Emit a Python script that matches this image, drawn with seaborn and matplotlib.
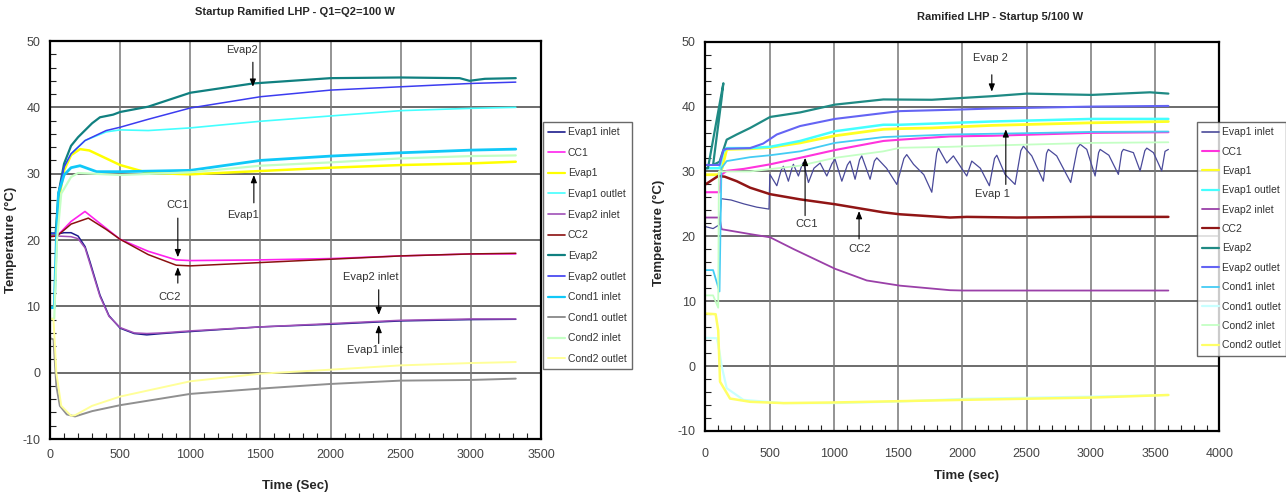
import numpy as np
import pandas as pd
import matplotlib
matplotlib.use("Agg")
import matplotlib.pyplot as plt
from matplotlib.lines import Line2D
from matplotlib.ticker import MultipleLocator
import seaborn as sns

# -----------------------------
# Data  (time s, temperature degC)
# -----------------------------

sensor_names = ["Evap1 inlet", "CC1", "Evap1", "Evap1 outlet", "Evap2 inlet", "CC2",
                "Evap2", "Evap2 outlet", "Cond1 inlet", "Cond1 outlet", "Cond2 inlet", "Cond2 outlet"]

# left chart: Q1=Q2=100 W
left_evap1_inlet = [(0, 20.8), (50, 20.9), (100, 21.1), (150, 21.1), (200, 20.6), (250, 19.0), (285, 16.7),
                    (356, 11.7), (420, 8.6), (500, 6.7), (600, 5.9), (690, 5.7), (800, 5.9), (1000, 6.2),
                    (1500, 6.9), (2000, 7.3), (2500, 7.8), (3000, 8.0), (3320, 8.05)]
left_cc1 = [(0, 20.8), (50, 20.6), (150, 22.8), (249, 24.3), (350, 22.6), (500, 20.1), (700, 18.3),
            (900, 17.0), (1000, 16.9), (1500, 17.0), (2000, 17.2), (2500, 17.6), (3000, 17.9), (3320, 17.9)]
left_evap1 = [(0, 21), (45, 21), (70, 27), (100, 30.5), (150, 32.8), (214, 33.7), (280, 33.5), (400, 32.3),
              (500, 31.3), (700, 30.1), (1000, 29.9), (1500, 30.4), (2000, 30.9), (2500, 31.3), (3000, 31.55),
              (3320, 31.8)]
left_evap1_outlet = [(0, 21), (45, 21), (60, 27), (100, 31), (150, 33), (250, 35), (400, 36.3), (500, 36.6),
                     (700, 36.5), (1000, 36.9), (1500, 37.9), (2000, 38.7), (2500, 39.5), (3000, 39.85),
                     (3320, 40.0)]
left_evap2_inlet = [(0, 20.6), (50, 20.6), (150, 20.5), (200, 20.2), (250, 18.8), (285, 16.4), (356, 11.5),
                    (420, 8.5), (500, 6.8), (600, 6.0), (690, 5.9), (800, 6.0), (1000, 6.3), (1500, 6.9),
                    (2000, 7.4), (2500, 7.9), (3000, 8.1), (3320, 8.1)]
left_cc2 = [(0, 20.5), (50, 20.6), (150, 22.4), (273, 23.3), (400, 21.6), (500, 20.1), (700, 17.8),
            (900, 16.2), (1000, 16.1), (1500, 16.6), (2000, 17.1), (2500, 17.6), (3000, 17.9), (3320, 18.0)]
left_evap2 = [(0, 21), (40, 21), (60, 27), (100, 31.5), (150, 34.2), (200, 35.5), (300, 37.6), (356, 38.5),
              (450, 38.9), (500, 39.3), (700, 40.1), (1000, 42.2), (1447, 43.6), (2000, 44.4), (2500, 44.5),
              (2920, 44.4), (2990, 44.0), (3100, 44.3), (3320, 44.4)]
left_evap2_outlet = [(0, 21), (45, 21), (60, 27), (100, 31), (150, 33), (250, 35), (400, 36.5), (500, 37.0),
                     (700, 38.2), (1000, 39.9), (1500, 41.6), (2000, 42.6), (2500, 43.1), (3000, 43.6),
                     (3320, 43.8)]
left_cond1_inlet = [(0, 9.8), (30, 9.8), (45, 20), (60, 27), (100, 29.8), (150, 30.9), (214, 31.2),
                    (332, 30.3), (500, 30.3), (1000, 30.5), (1500, 32.0), (2000, 32.65), (2500, 33.15),
                    (3000, 33.55), (3320, 33.7)]
left_cond1_outlet = [(0, 5.2), (25, 5.0), (45, -2), (70, -5), (120, -6.3), (178, -6.6), (300, -5.8),
                     (500, -4.9), (1000, -3.2), (1500, -2.4), (2000, -1.7), (2500, -1.2), (3000, -1.1),
                     (3320, -0.9)]
left_cond2_inlet = [(0, 8), (30, 8.2), (50, 20), (80, 27), (150, 29.5), (200, 30.1), (500, 29.8),
                    (1000, 30.2), (1500, 31.2), (2000, 31.7), (2500, 32.3), (3000, 32.65), (3320, 32.75)]
left_cond2_outlet = [(0, 8.2), (25, 8), (45, 0), (80, -5), (150, -6.5), (180, -6.4), (300, -5.0),
                     (500, -3.6), (1000, -1.3), (1500, -0.15), (2000, 0.45), (2500, 1.1), (3000, 1.45),
                     (3320, 1.6)]

# right chart: startup 5/100 W
right_evap1_inlet = [(0, 21.5), (60, 21.2), (110, 21.8), (125, 25.8), (200, 25.6), (300, 25.0), (400, 24.5),
                     (495, 24.2), (502, 29.55), (556, 27.8), (590, 30.2), (607, 30.8), (646, 28.5),
                     (675, 30.6), (685, 31.1), (724, 29.3), (750, 30.9), (763, 31.4), (802, 28.3), (845, 30.5),
                     (893, 31.3), (945, 29.3), (985, 31.2), (1009, 31.9), (1062, 28.5), (1105, 31.0),
                     (1126, 31.6), (1165, 28.8), (1200, 31.8), (1217, 32.4), (1282, 28.8), (1315, 31.6),
                     (1334, 32.1), (1410, 30.5), (1490, 28.0), (1545, 32.0), (1567, 32.6), (1620, 31.1),
                     (1700, 29.5), (1762, 26.8), (1800, 32.8), (1814, 33.6), (1879, 31.3), (1930, 32.4),
                     (2034, 29.3), (2073, 31.6), (2140, 30.5), (2210, 27.8), (2250, 32.0), (2268, 32.5),
                     (2332, 29.55), (2410, 28.0), (2455, 33.2), (2475, 33.9), (2540, 32.4), (2630, 28.5),
                     (2655, 32.8), (2669, 33.4), (2734, 32.4), (2843, 28.3), (2895, 33.6), (2916, 34.2),
                     (2968, 33.4), (3033, 29.3), (3060, 32.9), (3072, 33.4), (3140, 32.5), (3214, 29.55),
                     (3240, 33.0), (3253, 33.4), (3331, 32.9), (3383, 30.1), (3420, 33.2), (3435, 33.6),
                     (3487, 32.9), (3551, 30.1), (3577, 33.1), (3603, 33.4)]
right_cc1 = [(0, 26.8), (110, 26.8), (125, 29.5), (166, 30.1), (300, 30.4), (504, 31.1), (737, 32.1),
             (1008, 33.3), (1385, 34.7), (1515, 34.9), (1904, 35.4), (2229, 35.5), (3007, 35.95), (3603, 36.05)]
right_evap1 = [(0, 29.5), (100, 29.5), (130, 30.5), (166, 33.4), (348, 33.5), (504, 33.7), (737, 34.4),
               (1008, 35.5), (1385, 36.5), (1515, 36.6), (1762, 36.7), (2229, 37.1), (3007, 37.5), (3603, 37.7)]
right_evap1_outlet = [(0, 30.5), (110, 30.5), (140, 33.0), (166, 33.6), (348, 33.6), (504, 33.8), (737, 34.7),
                      (1008, 36.2), (1385, 37.2), (1515, 37.2), (2229, 37.7), (3007, 38.1), (3603, 38.1)]
right_evap2_inlet = [(0, 22.9), (110, 22.9), (126, 21.1), (348, 20.35), (504, 19.85), (685, 18.05),
                     (1009, 15.0), (1256, 13.2), (1515, 12.4), (1904, 11.7), (2008, 11.65), (3007, 11.65),
                     (3603, 11.65)]
right_cc2 = [(0, 28.0), (100, 29.3), (150, 29.2), (244, 28.5), (348, 27.5), (504, 26.5), (737, 25.7),
             (1008, 24.95), (1385, 23.7), (1515, 23.4), (1904, 22.9), (2034, 23.0), (2425, 22.9), (3007, 23.0),
             (3603, 23.0)]
right_evap2 = [(0, 30.5), (20, 30.5), (140, 43.6), (125, 41), (60, 31), (110, 31.5), (166, 34.9), (244, 35.7),
               (348, 36.7), (504, 38.4), (737, 39.1), (1008, 40.3), (1385, 41.1), (1762, 41.05), (2229, 41.6),
               (2501, 42.0), (3007, 41.8), (3460, 42.2), (3603, 42.0)]
right_evap2_outlet = [(0, 31.0), (110, 31.0), (140, 33.3), (166, 33.5), (348, 33.6), (450, 34.3), (556, 35.7),
                      (737, 37.0), (1008, 38.1), (1385, 39.0), (1515, 39.3), (1904, 39.5), (2229, 39.7),
                      (3007, 40.0), (3603, 40.1)]
right_cond1_inlet = [(0, 14.8), (60, 14.8), (110, 11.5), (125, 30.5), (166, 31.6), (348, 32.2), (504, 32.5),
                     (737, 33.1), (1008, 34.4), (1385, 35.3), (1904, 35.7), (2500, 35.9), (3007, 36.1),
                     (3603, 36.15)]
right_cond1_outlet = [(0, 4.35), (90, 4.3), (110, 2.2), (127, 0), (166, -3.4), (296, -5.2), (607, -5.7),
                      (1009, -5.7), (1515, -5.45), (2008, -5.05), (3007, -4.7), (3603, -4.45)]
right_cond2_inlet = [(0, 10.9), (60, 10.9), (100, 9.0), (105, 30.0), (348, 30.0), (737, 30.9), (1008, 32.1),
                     (1385, 33.1), (1515, 33.65), (1904, 33.8), (2229, 34.0), (3007, 34.4), (3603, 34.5)]
right_cond2_outlet = [(0, 8.1), (80, 8.0), (100, 5.5), (114, -2.4), (192, -5.0), (348, -5.5), (607, -5.7),
                      (1009, -5.6), (1515, -5.4), (2008, -5.2), (3007, -4.85), (3603, -4.45)]

left_series = [left_evap1_inlet, left_cc1, left_evap1, left_evap1_outlet, left_evap2_inlet, left_cc2,
               left_evap2, left_evap2_outlet, left_cond1_inlet, left_cond1_outlet, left_cond2_inlet,
               left_cond2_outlet]
right_series = [right_evap1_inlet, right_cc1, right_evap1, right_evap1_outlet, right_evap2_inlet, right_cc2,
                right_evap2, right_evap2_outlet, right_cond1_inlet, right_cond1_outlet, right_cond2_inlet,
                right_cond2_outlet]

left_colors = ["#1c1c8c", "#ff22ee", "#ffff00", "#44ffff", "#a050b8", "#8b1010",
               "#108080", "#3c3cf0", "#10c8f8", "#909090", "#c4ffc4", "#ffff99"]
right_colors = ["#4a4a9a", "#ff33dd", "#ffff22", "#44ffff", "#9a40a8", "#901515",
                "#1f8a84", "#6464f4", "#44ccf4", "#c8ffff", "#c4ffc4", "#ffff66"]
left_widths = [1.1, 1.2, 1.8, 1.2, 1.1, 1.1, 1.6, 1.1, 2.0, 1.4, 1.6, 1.4]
right_widths = [0.9, 1.5, 2.0, 1.8, 1.3, 1.8, 1.6, 1.5, 1.3, 1.6, 1.3, 1.8]


def to_frame(series_list):
    rows = []
    for name, pts in zip(sensor_names, series_list):
        for order, (t, temp) in enumerate(pts):
            rows.append({"Sensor": name, "Time": t, "Temp": temp, "order": order})
    return pd.DataFrame(rows)


left_df = to_frame(left_series)
right_df = to_frame(right_series)

# -----------------------------
# Plot
# -----------------------------
sns.set_style("white")
plt.rcParams["font.family"] = ["Liberation Sans", "DejaVu Sans"]
plt.rcParams["axes.unicode_minus"] = False

fig = plt.figure(figsize=(12.86, 4.97), dpi=100)
ax1 = fig.add_axes([0.0389, 0.1167, 0.3818, 0.8008])
ax2 = fig.add_axes([0.5485, 0.1328, 0.3997, 0.7833])


def draw_panel(ax, df, colors, widths, xmax):
    for name, col, lw in zip(sensor_names, colors, widths):
        sub = df[df["Sensor"] == name]
        sns.lineplot(data=sub, x="Time", y="Temp", color=col, lw=lw, sort=False,
                     estimator=None, ax=ax, legend=False)
    ax.set_xlim(0, xmax)
    ax.set_ylim(-10, 50)
    ax.xaxis.set_major_locator(MultipleLocator(500))
    ax.xaxis.set_minor_locator(MultipleLocator(100))
    ax.yaxis.set_major_locator(MultipleLocator(10))
    ax.yaxis.set_minor_locator(MultipleLocator(2))
    ax.tick_params(axis="both", which="major", labelsize=9, labelcolor="#444", length=0, pad=7)
    ax.tick_params(axis="both", which="minor", direction="in", length=4, color="#222", width=0.8)
    ax.tick_params(axis="x", which="minor", bottom=True)
    ax.tick_params(axis="y", which="minor", left=True)
    for y in range(0, 50, 10):
        ax.axhline(y, color="#444", lw=1.1, zorder=0)
    for x in range(500, xmax, 500):
        ax.axvline(x, color="#777", lw=1.1, zorder=0)
    for s in ax.spines.values():
        s.set_color("black")
        s.set_linewidth(1.6)
    ax.set_xlabel("")
    ax.set_ylabel("Temperature (°C)", fontsize=9.5, fontweight="bold")


draw_panel(ax1, left_df, left_colors, left_widths, 3500)
draw_panel(ax2, right_df, right_colors, right_widths, 4000)

ax1.yaxis.set_label_coords(-0.067, 0.5)
ax2.yaxis.set_label_coords(-0.078, 0.51)
ax1.text(0.5, -0.118, "Time (Sec)", transform=ax1.transAxes, ha="center", va="center",
         fontsize=9.5, fontweight="bold")
ax2.text(0.508, -0.116, "Time (sec)", transform=ax2.transAxes, ha="center", va="center",
         fontsize=9.5, fontweight="bold")
ax2.tick_params(axis="x", which="major", pad=12)

fig.text(295 / 1286, 1 - 12 / 497, "Startup Ramified LHP - Q1=Q2=100 W", ha="center", va="center",
         fontsize=8, fontweight="bold")
fig.text(1000 / 1286, 1 - 17 / 497, "Ramified LHP - Startup 5/100 W", ha="center", va="center",
         fontsize=8, fontweight="bold")

# annotations
arrow = dict(arrowstyle="-|>,head_width=0.18,head_length=0.45", color="black", lw=0.8, shrinkA=0, shrinkB=0)
note_kw = dict(fontsize=8, color="#333", ha="center", va="center")

ax1.annotate("", xy=(1446, 43.1), xytext=(1446, 46.8), arrowprops=arrow)
ax1.text(1370, 48.6, "Evap2", **note_kw)
ax1.annotate("", xy=(1453, 29.8), xytext=(1453, 25.6), arrowprops=arrow)
ax1.text(1374, 23.8, "Evap1", **note_kw)
ax1.annotate("", xy=(911, 17.4), xytext=(911, 23.3), arrowprops=arrow)
ax1.text(911, 25.3, "CC1", **note_kw)
ax1.annotate("", xy=(911, 15.9), xytext=(911, 13.5), arrowprops=arrow)
ax1.text(855, 11.4, "CC2", **note_kw)
ax1.annotate("", xy=(2343, 8.7), xytext=(2343, 12.5), arrowprops=arrow)
ax1.text(2286, 14.4, "Evap2 inlet", **note_kw)
ax1.annotate("", xy=(2343, 7.2), xytext=(2343, 4.4), arrowprops=arrow)
ax1.text(2314, 3.4, "Evap1 inlet", **note_kw)

ax2.annotate("", xy=(2229, 42.3), xytext=(2229, 44.9), arrowprops=arrow)
ax2.text(2216, 47.5, "Evap 2", **note_kw)
ax2.annotate("", xy=(2338, 36.5), xytext=(2338, 28.0), arrowprops=arrow)
ax2.text(2237, 26.5, "Evap 1", **note_kw)
ax2.annotate("", xy=(776, 32.1), xytext=(776, 23.2), arrowprops=arrow)
ax2.text(789, 21.9, "CC1", **note_kw)
ax2.annotate("", xy=(1196, 23.9), xytext=(1196, 19.6), arrowprops=arrow)
ax2.text(1204, 18.0, "CC2", **note_kw)

# legends
for colors, widths, anchor, spacing in [(left_colors, left_widths, (543 / 1286, 1 - 122 / 497), 1.02),
                                        (right_colors, right_widths, (1197 / 1286, 1 - 122 / 497), 0.9)]:
    handles = [Line2D([0], [0], color=c, lw=min(max(w, 1.2), 1.6)) for c, w in zip(colors, widths)]
    leg = fig.legend(handles, sensor_names, loc="upper left", bbox_to_anchor=anchor, fontsize=7.5,
                     frameon=True, fancybox=False, edgecolor="#444", handlelength=1.6,
                     handletextpad=0.3, labelspacing=spacing, borderpad=0.5, borderaxespad=0)
    leg.get_frame().set_linewidth(1.0)
    for txt in leg.get_texts():
        txt.set_color("#333")

fig.savefig("out.png", dpi=100, facecolor="white")
